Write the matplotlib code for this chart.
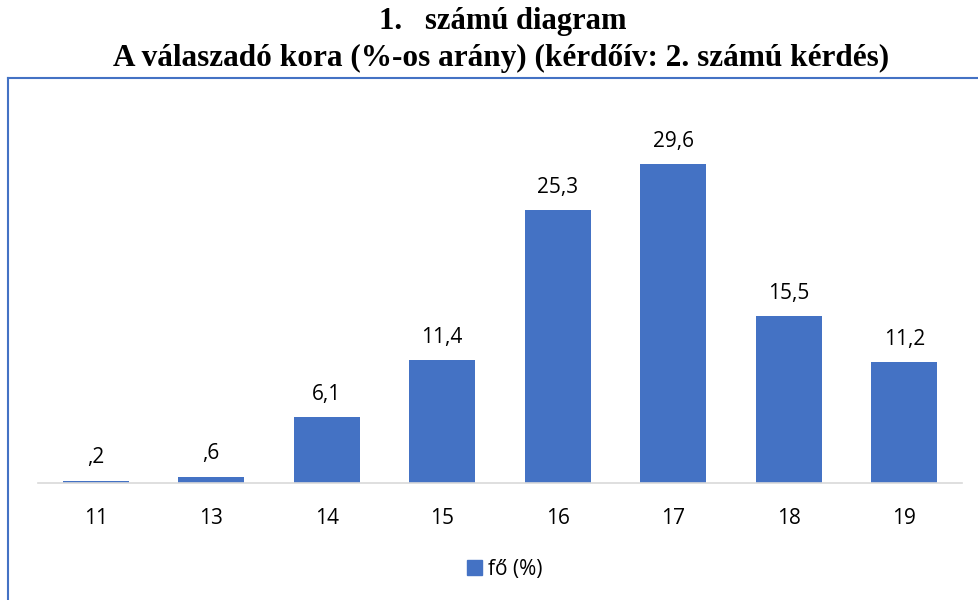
import matplotlib.pyplot as plt
from matplotlib.lines import Line2D
from matplotlib.patches import Patch

# Data
ages = ['11', '13', '14', '15', '16', '17', '18', '19']
values = [0.2, 0.6, 6.1, 11.4, 25.3, 29.6, 15.5, 11.2]
labels = [',2', ',6', '6,1', '11,4', '25,3', '29,6', '15,5', '11,2']

W, H = 979, 600
blue = '#4472C4'

fig = plt.figure(figsize=(W / 100, H / 100), dpi=100)

# axes placed in pixel terms: x 38..962, y 106..483
ax = fig.add_axes([38 / W, 1 - 483 / H, (962 - 38) / W, (483 - 106) / H])
x = range(len(ages))
bars = ax.bar(x, values, width=0.57, color=blue)
ax.set_xlim(-0.5, len(ages) - 0.5)
ax.set_ylim(0, 35)

for xi, v, lab in zip(x, values, labels):
    ax.annotate(lab, (xi, v), xytext=(0, 9), textcoords='offset points',
                ha='center', va='bottom', fontsize=15, family='Open Sans', color='#000000')

ax.set_xticks(list(x))
ax.set_xticklabels(ages, fontsize=15, family='Open Sans')
ax.tick_params(axis='x', length=0, pad=18)
ax.set_yticks([])
for s in ['top', 'right', 'left']:
    ax.spines[s].set_visible(False)
ax.spines['bottom'].set_color('#D9D9D9')
ax.spines['bottom'].set_linewidth(1.2)

# legend
leg = fig.legend(handles=[Patch(color=blue, label='fő (%)')], loc='center',
                 bbox_to_anchor=(505 / W, 1 - 569 / H), frameon=False,
                 prop={'family': 'Open Sans', 'size': 15},
                 handlelength=0.7, handleheight=0.7, handletextpad=0.3)

# chart border (left and top visible)
fig.add_artist(Line2D([8 / W, 8 / W], [0, 1 - 78 / H], transform=fig.transFigure,
                      color=blue, lw=1.5))
fig.add_artist(Line2D([8 / W, 1], [1 - 78 / H, 1 - 78 / H], transform=fig.transFigure,
                      color=blue, lw=1.5))

# titles
fig.text(503 / W, 1 - 21 / H, '1.   számú diagram', ha='center', va='center',
         family='Liberation Serif', weight='bold', fontsize=22)
fig.text(501 / W, 1 - 58 / H, 'A válaszadó kora (%-os arány) (kérdőív: 2. számú kérdés)',
         ha='center', va='center', family='Liberation Serif', weight='bold', fontsize=22.5)

fig.savefig('out.png', dpi=100)
